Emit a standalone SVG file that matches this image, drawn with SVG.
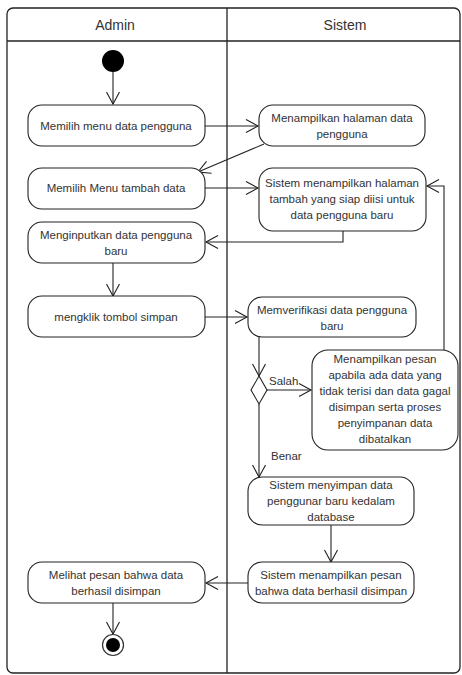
<svg xmlns="http://www.w3.org/2000/svg" width="462" height="675" viewBox="0 0 462 675">
<style>
.frame{fill:#fff;stroke:#222;stroke-width:1.3}
.node{fill:#fff;stroke:#222;stroke-width:1.1}
.t{font-family:"Liberation Sans",Arial,sans-serif;font-size:11.5px;fill:#333;text-anchor:middle}
.h{font-family:"Liberation Sans",Arial,sans-serif;font-size:14px;fill:#333;text-anchor:middle}
.l{font-family:"Liberation Sans",Arial,sans-serif;font-size:11.5px;fill:#333}
.c{fill:none;stroke:#222;stroke-width:1.1}
</style>
<defs>
<marker id="arr" markerUnits="userSpaceOnUse" markerWidth="16" markerHeight="16" viewBox="-14 -8 16 16" refX="0" refY="0" orient="auto">
<path d="M-12,-6.5 L0,0 L-12,6.5" fill="none" stroke="#222" stroke-width="1.1"/>
</marker>
</defs>
<rect width="462" height="675" fill="#fff"/>
<g id="swimlanes">
<rect class="frame" x="7" y="8" width="453" height="665" rx="6"/>
<line class="frame" x1="7" y1="41" x2="460" y2="41"/>
<line class="frame" x1="227" y1="8" x2="227" y2="673"/>
<text class="h" x="115" y="30">Admin</text>
<text class="h" x="345" y="30">Sistem</text>
</g>
<g id="connectors">
<line class="c" x1="113" y1="72" x2="113" y2="104" marker-end="url(#arr)"/>
<line class="c" x1="205" y1="126" x2="258" y2="126" marker-end="url(#arr)"/>
<line class="c" x1="264" y1="144" x2="198" y2="172" marker-end="url(#arr)"/>
<line class="c" x1="205" y1="188" x2="258" y2="188" marker-end="url(#arr)"/>
<polyline class="c" points="343,231 343,242 206,242" marker-end="url(#arr)"/>
<line class="c" x1="113" y1="263" x2="113" y2="296" marker-end="url(#arr)"/>
<line class="c" x1="205" y1="317" x2="247" y2="317" marker-end="url(#arr)"/>
<line class="c" x1="259" y1="337" x2="259" y2="376" marker-end="url(#arr)"/>
<line class="c" x1="267" y1="390" x2="311" y2="390" marker-end="url(#arr)"/>
<polyline class="c" points="444,350 444,186 427,186" marker-end="url(#arr)"/>
<line class="c" x1="259" y1="404" x2="259" y2="477" marker-end="url(#arr)"/>
<line class="c" x1="331" y1="525" x2="331" y2="562" marker-end="url(#arr)"/>
<line class="c" x1="248" y1="583" x2="206" y2="583" marker-end="url(#arr)"/>
<line class="c" x1="113" y1="603" x2="113" y2="634" marker-end="url(#arr)"/>
<text class="l" x="269" y="385">Salah</text>
<text class="l" x="271" y="460">Benar</text>
</g>
<g id="start">
<circle cx="113" cy="61" r="11" fill="#000"/>
</g>
<g id="n1">
<rect class="node" x="28" y="105" width="177" height="41" rx="14"/>
<text class="t" x="116" y="130">Memilih menu data pengguna</text>
</g>
<g id="n2">
<rect class="node" x="28" y="168" width="177" height="41" rx="14"/>
<text class="t" x="116" y="192">Memilih Menu tambah data</text>
</g>
<g id="n3">
<rect class="node" x="28" y="222" width="177" height="41" rx="14"/>
<text class="t" x="116" y="239">Menginputkan data pengguna</text>
<text class="t" x="116" y="255">baru</text>
</g>
<g id="n4">
<rect class="node" x="28" y="296" width="177" height="41" rx="14"/>
<text class="t" x="116" y="321">mengklik tombol simpan</text>
</g>
<g id="n5">
<rect class="node" x="28" y="562" width="177" height="41" rx="14"/>
<text class="t" x="116" y="579">Melihat pesan bahwa data</text>
<text class="t" x="116" y="595">berhasil disimpan</text>
</g>
<g id="end">
<circle cx="113" cy="645" r="10.5" fill="#fff" stroke="#333" stroke-width="1.2"/>
<circle cx="113" cy="645" r="7" fill="#000"/>
</g>
<g id="s1">
<rect class="node" x="259" y="105" width="166" height="41" rx="14"/>
<text class="t" x="342" y="122">Menampilkan halaman data</text>
<text class="t" x="342" y="138">pengguna</text>
</g>
<g id="s2">
<rect class="node" x="259" y="168" width="167" height="63" rx="14"/>
<text class="t" x="342" y="187">Sistem menampilkan halaman</text>
<text class="t" x="342" y="203">tambah yang siap diisi untuk</text>
<text class="t" x="342" y="219">data pengguna baru</text>
</g>
<g id="s3">
<rect class="node" x="248" y="297" width="168" height="40" rx="14"/>
<text class="t" x="332" y="314">Memverifikasi data pengguna</text>
<text class="t" x="332" y="330">baru</text>
</g>
<g id="decision">
<polygon class="node" points="259,376 267,390 259,404 251,390"/>
</g>
<g id="s4">
<rect class="node" x="312" y="350" width="146" height="100" rx="16"/>
<text class="t" x="385" y="363">Menampilkan pesan</text>
<text class="t" x="385" y="379">apabila ada data yang</text>
<text class="t" x="385" y="395">tidak terisi dan data gagal</text>
<text class="t" x="385" y="411">disimpan serta proses</text>
<text class="t" x="385" y="427">penyimpanan data</text>
<text class="t" x="385" y="443">dibatalkan</text>
</g>
<g id="s5">
<rect class="node" x="248" y="477" width="166" height="48" rx="14"/>
<text class="t" x="331" y="489">Sistem menyimpan data</text>
<text class="t" x="331" y="505">penggunar baru kedalam</text>
<text class="t" x="331" y="521">database</text>
</g>
<g id="s6">
<rect class="node" x="248" y="562" width="166" height="41" rx="14"/>
<text class="t" x="331" y="579">Sistem menampilkan pesan</text>
<text class="t" x="331" y="595">bahwa data berhasil disimpan</text>
</g>
</svg>
